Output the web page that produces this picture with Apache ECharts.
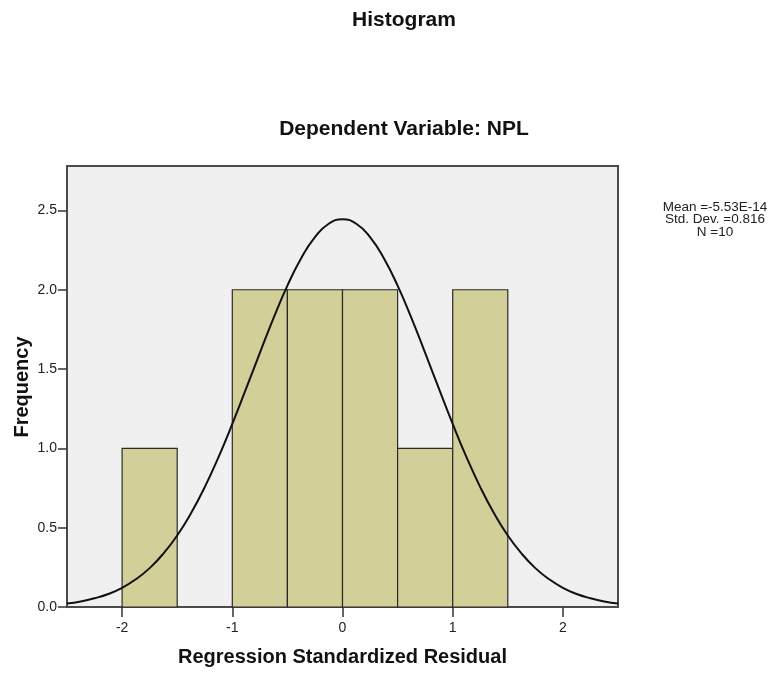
<!DOCTYPE html>
<html>
<head>
<meta charset="utf-8">
<script src="https://cdn.jsdelivr.net/npm/echarts@6/dist/echarts.min.js"></script>
<style>html,body{margin:0;padding:0;background:#fff;}#c{width:776px;height:682px;}</style>
</head>
<body>
<div id="c"></div>
<script>
// Histogram bins: [start, end, frequency]
const binStarts = [-2.0, -1.0, -0.5, 0.0, 0.5, 1.0];
const binEnds   = [-1.5, -0.5, 0.0, 0.5, 1.0, 1.5];
const binCounts = [1, 2, 2, 2, 1, 2];
// Normal curve
const curveX = [-2.5, -2.375, -2.25, -2.125, -2.0, -1.875, -1.75, -1.625, -1.5, -1.375, -1.25, -1.125, -1.0, -0.875, -0.75, -0.625, -0.5, -0.375, -0.25, -0.125, 0.0,
                0.125, 0.25, 0.375, 0.5, 0.625, 0.75, 0.875, 1.0, 1.125, 1.25, 1.375, 1.5, 1.625, 1.75, 1.875, 2.0, 2.125, 2.25, 2.375, 2.5];
const curveY = [0.022, 0.035, 0.055, 0.082, 0.121, 0.175, 0.245, 0.337, 0.451, 0.591, 0.756, 0.945, 1.154, 1.376, 1.602, 1.823, 2.026, 2.199, 2.332, 2.416, 2.444,
                2.416, 2.332, 2.199, 2.026, 1.823, 1.602, 1.376, 1.154, 0.945, 0.756, 0.591, 0.451, 0.337, 0.245, 0.175, 0.121, 0.082, 0.055, 0.035, 0.022];
const xTicks = [-2, -1, 0, 1, 2];
const yTicks = [0, 0.5, 1.0, 1.5, 2.0, 2.5];
const statsLines = ['Mean =-5.53E-14', 'Std. Dev. =0.816', 'N =10'];

const chart = echarts.init(document.getElementById('c'));
const FONT = '"Liberation Sans", Arial, sans-serif';
chart.setOption({
  animation: false,
  backgroundColor: '#ffffff',
  graphic: [
    {type: 'text', x: 404, y: 20,
     style: {text: 'Histogram', font: 'bold 21px "Liberation Sans", Arial, sans-serif',
             fill: '#111', align: 'center', verticalAlign: 'middle'}},
    {type: 'text', x: 404, y: 129,
     style: {text: 'Dependent Variable: NPL', font: 'bold 21px "Liberation Sans", Arial, sans-serif',
             fill: '#111', align: 'center', verticalAlign: 'middle'}},
    {type: 'text', x: 715, y: 201,
     style: {text: statsLines.join('\n'), font: '13.5px "Liberation Sans", Arial, sans-serif',
             fill: '#222', align: 'center', verticalAlign: 'top', lineHeight: 12.5}},
    {type: 'text', x: 22, y: 387, rotation: Math.PI / 2,
     style: {text: 'Frequency', font: 'bold 20px "Liberation Sans", Arial, sans-serif',
             fill: '#111', align: 'center', verticalAlign: 'middle'}}
  ],
  grid: {left: 67, top: 166, width: 551, height: 441, show: true, containLabel: false,
         outerBoundsMode: 'none',
         backgroundColor: '#f0f0f0', borderColor: '#4a4a4a', borderWidth: 2},
  xAxis: {
    type: 'value', min: -2.5, max: 2.5,
    name: 'Regression Standardized Residual', nameLocation: 'middle', nameGap: 40,
    nameTextStyle: {fontFamily: FONT, fontSize: 20, fontWeight: 'bold', color: '#111'},
    axisLine: {show: true, onZero: false, lineStyle: {color: '#4a4a4a', width: 2}},
    axisTick: {show: true, length: 10, customValues: xTicks, lineStyle: {color: '#333', width: 1.5}},
    axisLabel: {customValues: xTicks, margin: 14, fontFamily: FONT, fontSize: 14, color: '#222'},
    splitLine: {show: false}
  },
  yAxis: {
    type: 'value', min: 0, max: 2.78,
    axisLine: {show: true, onZero: false, lineStyle: {color: '#4a4a4a', width: 2}},
    axisTick: {show: true, length: 9, customValues: yTicks, lineStyle: {color: '#333', width: 1.5}},
    axisLabel: {customValues: yTicks, margin: 10, fontFamily: FONT, fontSize: 14, color: '#222',
                formatter: v => v.toFixed(1)},
    splitLine: {show: false}
  },
  series: [
    {
      type: 'custom',
      data: binStarts.map((s, i) => [s, binEnds[i], binCounts[i]]),
      renderItem: function (params, api) {
        const p0 = api.coord([api.value(0), 0]);
        const p1 = api.coord([api.value(1), api.value(2)]);
        return {
          type: 'rect',
          shape: {x: p0[0], y: p1[1], width: p1[0] - p0[0], height: p0[1] - p1[1]},
          style: {fill: '#d3cf98', stroke: '#2a2a2a', lineWidth: 1.2}
        };
      },
      z: 2
    },
    {
      type: 'line', smooth: true, showSymbol: false, silent: true,
      data: curveX.map((x, i) => [x, curveY[i]]),
      lineStyle: {color: '#111', width: 2},
      z: 3
    }
  ]
});
</script>
</body>
</html>
